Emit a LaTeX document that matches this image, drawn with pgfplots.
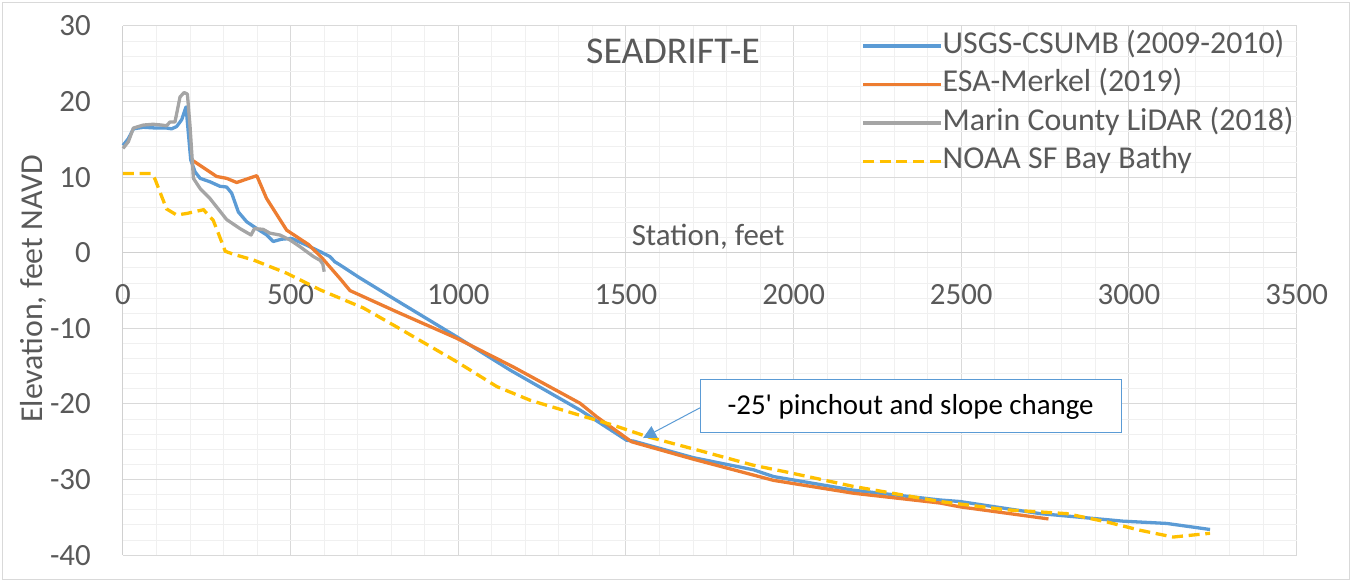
\documentclass[border=0pt]{standalone}
\usepackage{fontspec}
\setmainfont{Carlito}
\newfontfamily\callfont{Carlito}
\usepackage{pgfplots}
\pgfplotsset{compat=1.18}
\usetikzlibrary{arrows.meta}
\definecolor{cblue}{HTML}{5B9BD5}
\definecolor{corange}{HTML}{ED7D31}
\definecolor{cgray}{HTML}{A5A5A5}
\definecolor{cyellow}{HTML}{FFC000}
\definecolor{txt}{HTML}{595959}
\definecolor{gridmaj}{HTML}{D9D9D9}
\definecolor{gridmin}{HTML}{F0F0F0}
\definecolor{axisc}{HTML}{D0D0D0}
\begin{document}
\begin{tikzpicture}
\begin{axis}[
  name=ax,
  scale only axis, width=1173.6bp, height=529.2bp,
  xmin=0, xmax=3500, ymin=-40, ymax=30,
  xtick={0,500,...,3500}, ytick={-40,-30,...,30},
  minor x tick num=4, minor y tick num=4,
  grid=both,
  major grid style={draw=gridmaj, line width=1bp},
  minor grid style={draw=gridmin, line width=1bp},
  axis x line=middle, axis y line=left,
  axis line style={draw=axisc, line width=1bp, -},
  major tick length=0pt, minor tick length=0pt,
  hide obscured x ticks=false, hide obscured y ticks=false,
  tick label style={font=\fontsize{31}{31}\selectfont, text=txt, inner sep=0pt},
  xticklabel style={anchor=north, yshift=-31bp},
  yticklabel style={anchor=east, xshift=-32bp},
  /pgf/number format/assume math mode=true,
  /pgf/number format/1000 sep={},
  clip=false,
  legend cell align=left,
  legend style={draw=none, fill=none, at={(0.629,0.99)}, anchor=north west,
    font=\fontsize{32}{32}\selectfont, text=txt, inner sep=0pt, row sep=9.5bp,
    nodes={inner sep=0pt, text height=22bp, text depth=7bp},
    /tikz/every even column/.append style={column sep=0bp}},
  legend image code/.code={\draw[#1] plot coordinates {(0bp,0bp) (35bp,0bp) (70bp,0bp)};\path (0bp,0bp) -- (78bp,0bp);},
]
\addplot[cblue, line width=3.3bp, line join=round] coordinates {
(0,14.2)(16,15.1)(31,16.4)(61,16.6)(100,16.5)(130,16.5)(145,16.4)(160,16.7)(175,17.6)(188,19.3)
(202,12.3)(215,10.7)(230,9.85)(259,9.4)(289,8.8)(309,8.7)(324,7.9)(344,5.4)(369,4.1)(399,3.2)
(429,2.35)(448,1.5)(473,1.8)(503,1.9)(548,1.0)(588,0.15)(617,-0.5)(632,-1.2)(647,-1.6)(702,-3.2)
(816,-6.3)(995,-11.1)(1154,-15.5)(1363,-20.8)(1502,-24.8)(1522,-24.9)(1701,-27.1)(1880,-28.7)
(1940,-29.6)(2178,-31.4)(2437,-32.7)(2496,-32.9)(2735,-34.5)(2884,-35.1)(2983,-35.5)(3113,-35.8)(3242,-36.6)};
\addlegendentry{USGS-CSUMB (2009-2010)}
\addplot[corange, line width=3.3bp, line join=round] coordinates {
(205,12.3)(215,12.0)(279,10.1)(309,9.85)(339,9.3)(399,10.2)(428,7.2)(488,3.0)(553,1.1)(592,-0.6)
(647,-3.4)(677,-5.0)(816,-7.8)(995,-11.3)(1164,-15.1)(1363,-19.9)(1413,-21.7)(1517,-25.0)
(1701,-27.3)(1940,-30.1)(2178,-31.8)(2437,-33.1)(2496,-33.6)(2760,-35.2)};
\addlegendentry{ESA-Merkel (2019)}
\addplot[cgray, line width=3.3bp, line join=round] coordinates {
(0,13.8)(16,14.7)(31,16.5)(61,16.9)(90,17.0)(115,16.9)(130,16.8)(140,17.3)(155,17.3)(170,20.6)
(182,21.2)(192,21.0)(200,16.7)(210,9.85)(230,8.5)(259,7.2)(309,4.4)(349,3.2)(382,2.35)(392,3.2)
(418,3.1)(438,2.6)(468,2.35)(498,1.7)(528,0.8)(568,-0.5)(588,-1.0)(596,-1.5)(600,-2.5)};
\addlegendentry{Marin County LiDAR (2018)}
\addplot[cyellow, line width=3.3bp, dash pattern=on 11bp off 5.7bp] coordinates {
(0,10.5)(85,10.5)(95,9.8)(115,7.5)(130,5.8)(160,5.0)(190,5.2)(240,5.7)(269,4.3)(285,2.5)(305,0.2)
(330,-0.2)(389,-0.95)(488,-2.7)(588,-4.9)(647,-6.0)(717,-7.3)(816,-9.8)(995,-14.4)(1115,-17.7)
(1214,-19.5)(1363,-21.5)(1462,-22.8)(1562,-24.3)(1731,-26.3)(1880,-28.1)(1979,-29.0)(2178,-30.9)
(2437,-32.9)(2635,-34.0)(2814,-34.5)(2934,-35.6)(3033,-36.7)(3132,-37.6)(3242,-37.1)};
\addlegendentry{NOAA SF Bay Bathy}
\node[anchor=base, font=\fontsize{38}{38}\selectfont, text=txt] at (rel axis cs:0.4687,0.9295) {SEADRIFT-E};
\node[anchor=base, font=\fontsize{31}{31}\selectfont, text=txt] at (axis cs:1745,0.9) {Station, feet};
\node[draw=cblue, line width=1bp, fill=white, minimum width=421bp, minimum height=53bp, inner sep=0pt,
  font=\callfont\fontsize{29}{29}\selectfont, text=black] at (axis cs:2349,-20.33) {-25' pinchout and slope change};
\draw[cblue, line width=1bp, -{Triangle[length=13bp,width=13bp]}] (axis cs:1721,-20.5) -- (axis cs:1551,-24.5);
\end{axis}
\begin{scope}[shift={(ax.south west)}]
\node[anchor=base, rotate=90, font=\fontsize{32}{32}\selectfont, text=txt] at (-80bp,266.2bp) {Elevation, feet NAVD};
\draw[gridmaj, line width=1.2bp] (-120.5bp,-24.3bp) rectangle (1226.5bp,552.7bp);
\pgfresetboundingbox
\path[use as bounding box] (-123bp,-26.8bp) rectangle (1229bp,555.2bp);
\end{scope}
\end{tikzpicture}
\end{document}
